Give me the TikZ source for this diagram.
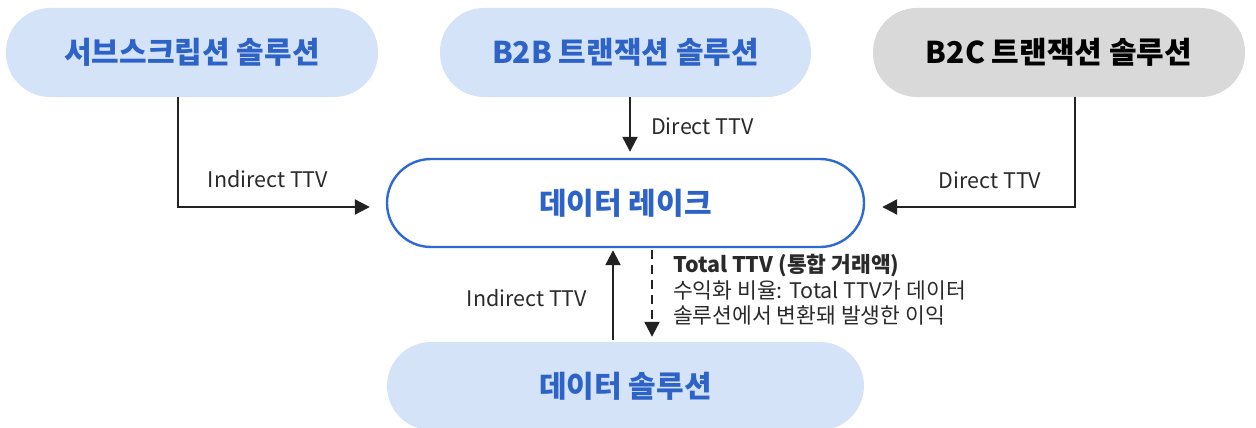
\documentclass[tikz,border=0pt]{standalone}
\usepackage{fontspec}
\setmainfont{Noto Sans CJK KR}
\usetikzlibrary{arrows.meta}
\definecolor{pillblue}{HTML}{D5E3F8}
\definecolor{pillgray}{HTML}{D9D9D9}
\definecolor{txtblue}{HTML}{2D63C6}
\definecolor{lakeblue}{HTML}{2F6AD3}
\definecolor{arrcol}{HTML}{222222}
\definecolor{lblcol}{HTML}{2A2A2A}
\tikzset{
  pill/.style={rectangle, rounded corners=44pt, minimum width=372pt, minimum height=89pt, inner sep=0pt,
    font=\fontsize{30}{36}\selectfont\bfseries},
  bluepill/.style={pill, fill=pillblue, text=txtblue},
  graypill/.style={pill, fill=pillgray, text=black},
  lakebox/.style={pill, minimum width=477pt, minimum height=88pt, draw=lakeblue, line width=2.4pt, fill=white, text=txtblue},
  arr/.style={draw=arrcol, line width=2.2pt, -{Triangle[length=15pt,width=15pt]}},
  lbl/.style={font=\fontsize{21.5}{25}\selectfont, text=lblcol, inner sep=0pt},
}
\begin{document}
\begin{tikzpicture}[x=1pt,y=-1pt]
\useasboundingbox (0,0) rectangle (1256,428);
\node[bluepill] (sub) at (192,52.5) {서브스크립션 솔루션};
\node[bluepill, minimum width=371pt] (b2b) at (625.5,52.5) {B2B 트랜잭션 솔루션};
\node[graypill] (b2c) at (1059,52.5) {B2C 트랜잭션 솔루션};
\node[lakebox] (lake) at (625.5,203) {데이터 레이크};
\node[bluepill, minimum width=477pt, minimum height=88pt] (ds) at (625.5,386) {데이터 솔루션};

\draw[arr] ([xshift=-14pt]sub.south) |- ([xshift=-16pt,yshift=-4pt]lake.west);
\draw[arr] ([xshift=4.5pt]b2b.south) -- ([xshift=4.5pt,yshift=6pt]lake.north);
\draw[arr] ([xshift=16pt]b2c.south) |- ([xshift=17pt,yshift=-4pt]lake.east);
\draw[arr] ([xshift=-12.5pt,yshift=2pt]ds.north) -- ([xshift=-12.5pt,yshift=-2pt]lake.south);
\draw[arr, dash pattern=on 9pt off 6pt] ([xshift=26.5pt,yshift=-2pt]lake.south) -- ([xshift=26.5pt,yshift=5pt]ds.north);

\node[lbl] (l1) at (268,179) {Indirect TTV};
\node[lbl, anchor=west] (l2) at (651,126) {Direct TTV};
\node[lbl] (l3) at (990,180) {Direct TTV};
\node[lbl] (l4) at (527,298) {Indirect TTV};
\node[lbl, anchor=north west, align=left, font=\fontsize{21.5}{25.5}\selectfont] (tb) at (673,254.5)
  {\textbf{Total TTV (통합 거래액)}\\수익화 비율: Total TTV가 데이터\\솔루션에서 변환돼 발생한 이익};
\end{tikzpicture}
\end{document}
